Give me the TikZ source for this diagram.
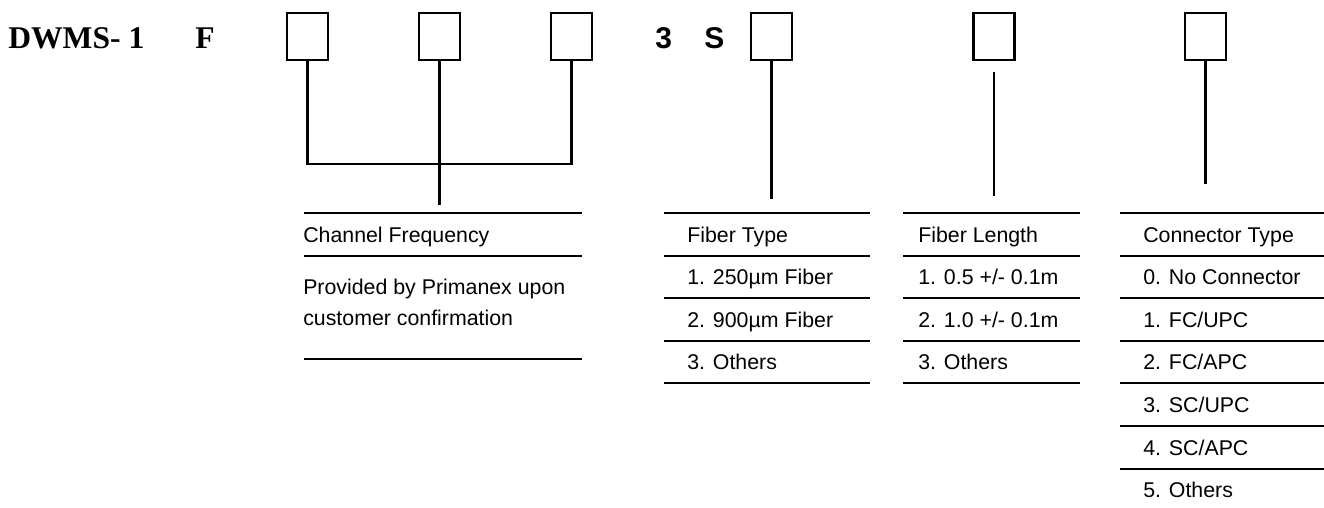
\documentclass[tikz,border=0pt]{standalone}
\usepackage{fontspec}
\setmainfont{Liberation Sans}
\newfontfamily\timesfont{Liberation Serif}
\usetikzlibrary{calc}

\begin{document}
\begin{tikzpicture}[x=0.75pt,y=-0.75pt,
	slot/.style={draw,line width=1.8pt,inner sep=0pt,minimum width=30.5pt,minimum height=35pt},
	lead/.style={line width=1.6pt},
	rule/.style={line width=1.8pt},
	code/.style={anchor=base west,inner sep=0pt,font=\timesfont\bfseries\fontsize{23.7}{28}\selectfont},
	digit/.style={anchor=base west,inner sep=0pt,font=\bfseries\fontsize{22.5}{27}\selectfont},
	item/.style={anchor=base west,inner sep=0pt,font=\fontsize{16}{19}\selectfont}]

% frame %{{{2

	\useasboundingbox (0,0) rectangle (1324,507);

% part number %{{{2

	\node[code] (dwms) at (8,48) {DWMS- 1};
	\node[code] (f) at (195,48) {F};
	\node[digit] (three) at (655,48) {3};
	\node[digit] (s) at (704,48) {S};

% boxes %{{{2

	\node[slot] (b1) at (307.5,36.5) {};
	\node[slot] (b2) at (439.5,36.5) {};
	\node[slot] (b3) at (571.5,36.5) {};
	\node[slot] (b4) at (771.5,36.5) {};
	\node[slot] (b5) at (994,36.5) {};
	\node[slot] (b6) at (1205.5,36.5) {};

% leads %{{{2

	\coordinate (bar) at (439.5,164);
	\coordinate (e2) at (439.5,205);
	\coordinate (e4) at (771.5,199);
	\coordinate (s5) at ($(b5.south)+(0,11)$);
	\coordinate (e5) at (994,196);
	\coordinate (e6) at (1205.5,184);

	\draw[lead] (b1.south) |- (bar) -| (b3.south);
	\draw[lead] (b2.south) -- (e2);
	\draw[lead] (b4.south) -- (e4);
	\draw[lead] (s5) -- (e5);
	\draw[lead] (b6.south) -- (e6);

% rules %{{{2

	\foreach \y in {213,256,359} { \draw[rule] (304,\y) -- (582,\y); }
	\foreach \y in {213,256,298,341,383} { \draw[rule] (664,\y) -- (870,\y); }
	\foreach \y in {213,256,298,341,383} { \draw[rule] (903,\y) -- (1080,\y); }
	\foreach \y in {213,256,298,341,383,426,469} { \draw[rule] (1120,\y) -- (1324,\y); }

% channel frequency %{{{2

	\node[item] (ch0) at (303,242.5) {Channel Frequency};
	\node[item] (ch1) at (303,294.5) {Provided by Primanex upon};
	\node[item] (ch2) at (303,325.5) {customer confirmation};

% fiber type %{{{2

	\node[item] (ft0) at (687,242) {Fiber Type};
	\node[item] (ft1) at (687,284.5) {1. 250µm Fiber};
	\node[item] (ft2) at (687,327) {2. 900µm Fiber};
	\node[item] (ft3) at (687,369.5) {3. Others};

% fiber length %{{{2

	\node[item] (fl0) at (918,242) {Fiber Length};
	\node[item] (fl1) at (918,284.5) {1. 0.5 +/- 0.1m};
	\node[item] (fl2) at (918,327) {2. 1.0 +/- 0.1m};
	\node[item] (fl3) at (918,369.5) {3. Others};

% connector type %{{{2

	\node[item] (ct0) at (1143,242) {Connector Type};
	\node[item] (ct1) at (1143,284.5) {0. No Connector};
	\node[item] (ct2) at (1143,327) {1. FC/UPC};
	\node[item] (ct3) at (1143,369.5) {2. FC/APC};
	\node[item] (ct4) at (1143,412) {3. SC/UPC};
	\node[item] (ct5) at (1143,455) {4. SC/APC};
	\node[item] (ct6) at (1143,497.5) {5. Others};

\end{tikzpicture}
\end{document}
